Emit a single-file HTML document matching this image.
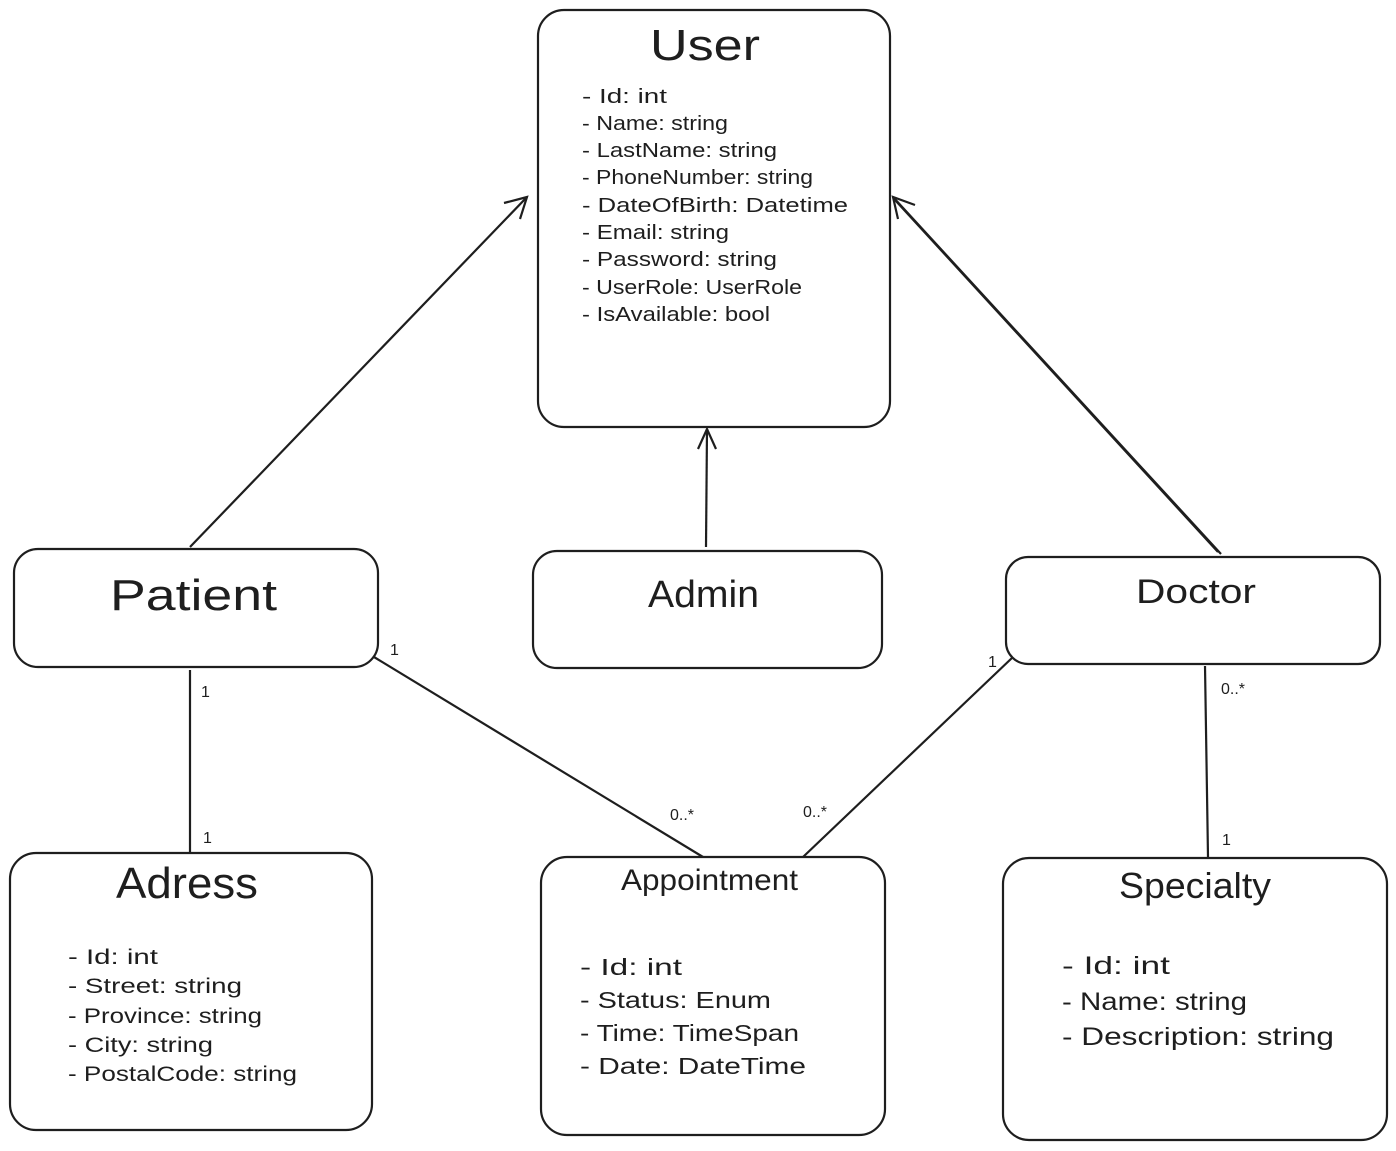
<!DOCTYPE html>
<html><head><meta charset="utf-8"><style>
html,body{margin:0;padding:0;background:#fff;}
svg{display:block;}
text{font-family:"Liberation Sans",sans-serif;fill:#1e1e1e;}
</style></head><body>
<svg width="1396" height="1151" viewBox="0 0 1396 1151" xmlns="http://www.w3.org/2000/svg">
<g fill="none" stroke="#1e1e1e" stroke-width="2.2">
<rect x="538" y="10" width="352" height="417" rx="26"/>
<rect x="14" y="549" width="364" height="118" rx="24"/>
<rect x="533" y="551" width="349" height="117" rx="24"/>
<rect x="1006" y="557" width="374" height="107" rx="22"/>
<rect x="10" y="853" width="362" height="277" rx="26"/>
<rect x="541" y="857" width="344" height="278" rx="26"/>
<rect x="1003" y="858" width="384" height="282" rx="26"/>
<line x1="190" y1="547" x2="527" y2="197"/>
<polyline points="504,203 527,197 520,219"/>
<line x1="706" y1="547" x2="707" y2="429"/>
<polyline points="698,449 707,429 716,449"/>
<line x1="1221" y1="554" x2="893" y2="197"/>
<line x1="1218" y1="552" x2="895" y2="200"/>
<polyline points="898,219 893,197 915,205"/>
<line x1="190" y1="670" x2="190" y2="853"/>
<line x1="374" y1="657" x2="703" y2="857"/>
<line x1="1013" y1="657" x2="803" y2="857"/>
<line x1="1205" y1="666" x2="1208" y2="857"/>
</g>
<g lengthAdjust="spacingAndGlyphs">
<text x="650" y="60" font-size="44" textLength="110" lengthAdjust="spacingAndGlyphs">User</text>
<text x="110" y="610" font-size="44" textLength="167" lengthAdjust="spacingAndGlyphs">Patient</text>
<text x="648" y="607" font-size="38" textLength="111" lengthAdjust="spacingAndGlyphs">Admin</text>
<text x="1136" y="603" font-size="34" textLength="120" lengthAdjust="spacingAndGlyphs">Doctor</text>
<text x="116" y="898" font-size="44" textLength="142" lengthAdjust="spacingAndGlyphs">Adress</text>
<text x="621" y="890" font-size="30" textLength="177" lengthAdjust="spacingAndGlyphs">Appointment</text>
<text x="1119" y="898" font-size="36" textLength="152" lengthAdjust="spacingAndGlyphs">Specialty</text>
</g>
<g font-size="20">
<text x="582" y="103" textLength="85" lengthAdjust="spacingAndGlyphs">- Id: int</text>
<text x="582" y="130" textLength="146" lengthAdjust="spacingAndGlyphs">- Name: string</text>
<text x="582" y="157" textLength="195" lengthAdjust="spacingAndGlyphs">- LastName: string</text>
<text x="582" y="184" textLength="231" lengthAdjust="spacingAndGlyphs">- PhoneNumber: string</text>
<text x="582" y="212" textLength="266" lengthAdjust="spacingAndGlyphs">- DateOfBirth: Datetime</text>
<text x="582" y="239" textLength="147" lengthAdjust="spacingAndGlyphs">- Email: string</text>
<text x="582" y="266" textLength="195" lengthAdjust="spacingAndGlyphs">- Password: string</text>
<text x="582" y="294" textLength="220" lengthAdjust="spacingAndGlyphs">- UserRole: UserRole</text>
<text x="582" y="321" textLength="188" lengthAdjust="spacingAndGlyphs">- IsAvailable: bool</text>
</g>
<g font-size="21">
<text x="68" y="964" textLength="90" lengthAdjust="spacingAndGlyphs">- Id: int</text>
<text x="68" y="993" textLength="174" lengthAdjust="spacingAndGlyphs">- Street: string</text>
<text x="68" y="1023" textLength="194" lengthAdjust="spacingAndGlyphs">- Province: string</text>
<text x="68" y="1052" textLength="145" lengthAdjust="spacingAndGlyphs">- City: string</text>
<text x="68" y="1081" textLength="229" lengthAdjust="spacingAndGlyphs">- PostalCode: string</text>
</g>
<g font-size="23">
<text x="580" y="975" textLength="102" lengthAdjust="spacingAndGlyphs">- Id: int</text>
<text x="580" y="1008" textLength="191" lengthAdjust="spacingAndGlyphs">- Status: Enum</text>
<text x="580" y="1041" textLength="219" lengthAdjust="spacingAndGlyphs">- Time: TimeSpan</text>
<text x="580" y="1074" textLength="226" lengthAdjust="spacingAndGlyphs">- Date: DateTime</text>
</g>
<g font-size="25">
<text x="1062" y="974" textLength="108" lengthAdjust="spacingAndGlyphs">- Id: int</text>
<text x="1062" y="1010" textLength="185" lengthAdjust="spacingAndGlyphs">- Name: string</text>
<text x="1062" y="1045" textLength="272" lengthAdjust="spacingAndGlyphs">- Description: string</text>
</g>
<g font-size="16">
<text x="390" y="655">1</text>
<text x="201" y="697">1</text>
<text x="203" y="843">1</text>
<text x="670" y="820">0..*</text>
<text x="803" y="817">0..*</text>
<text x="988" y="667">1</text>
<text x="1221" y="694">0..*</text>
<text x="1222" y="845">1</text>
</g>
</svg>
</body></html>
